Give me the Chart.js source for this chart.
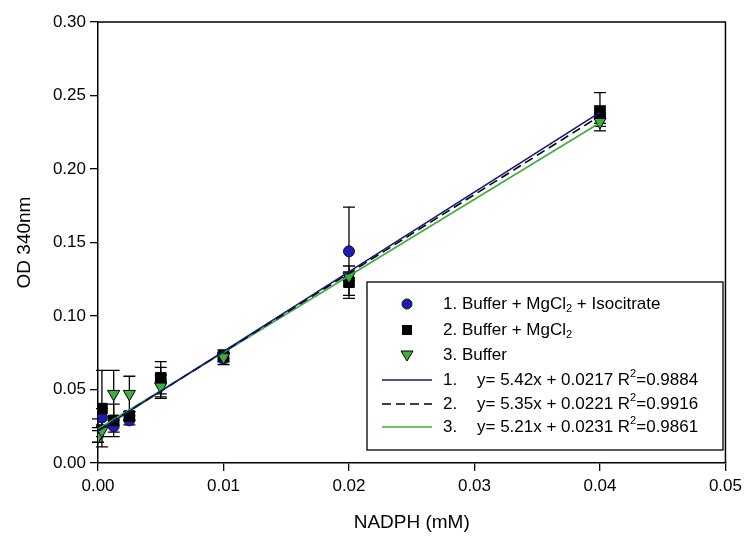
<!DOCTYPE html>
<html>
<head>
<meta charset="utf-8">
<script src="https://cdn.jsdelivr.net/npm/chart.js@4.4.1/dist/chart.umd.min.js"></script>
<style>
  html, body { margin: 0; padding: 0; background: #fff; }
</style>
</head>
<body>
<canvas id="myChart" width="747" height="540"></canvas>
<script>
// NADPH concentrations (mM)
const nadph = [0, 0.0003125, 0.00125, 0.0025, 0.005, 0.01, 0.02, 0.04];

// 1. Buffer + MgCl2 + Isocitrate
const od1 = [0.019, 0.031, 0.025, 0.029, 0.055, 0.071, 0.144, 0.237];
const err1 = [0.005, 0.006, 0.004, 0.003, 0.010, 0.004, 0.030, 0.006];
// 2. Buffer + MgCl2
const od2 = [0.022, 0.037, 0.029, 0.032, 0.058, 0.073, 0.123, 0.239];
const err2 = [0.008, 0.026, 0.011, 0.003, 0.011, 0.004, 0.011, 0.013];
// 3. Buffer
const od3 = [0.018, 0.022, 0.047, 0.047, 0.052, 0.072, 0.127, 0.232];
const err3 = [0.004, 0.004, 0.016, 0.012, 0.008, 0.003, 0.003, 0.003];

// regression lines (ends read from the equations)
const fitX = [0, 0.04];
const fit1 = [0.0217, 0.2385];
const fit2 = [0.0221, 0.2361];
const fit3 = [0.0231, 0.2315];

// legend texts ('_' = subscript, '^' = superscript)
const seriesLabels = [
    ['1. Buffer + MgCl', '_2', ' + Isocitrate'],
    ['2. Buffer + MgCl', '_2'],
    ['3. Buffer']
];
const fitNums = ['1.', '2.', '3.'];
const fitLabels = [
    ['y= 5.42x + 0.0217 R', '^2', '=0.9884'],
    ['y= 5.35x + 0.0221 R', '^2', '=0.9916'],
    ['y= 5.21x + 0.0231 R', '^2', '=0.9861']
];

const FONT = 'Arial, "Liberation Sans", sans-serif';
const BLUE = '#1e1ea8';
const NAVY = '#14147a';
const GREEN = '#3cae3c';

function toPoints(xs, ys) {
    return xs.map((x, i) => ({ x: x, y: ys[i] }));
}

// text with sub / superscripts
function richText(ctx, parts, x, y, size) {
    let cx = x;
    parts.forEach(p => {
        let s = size, dy = 0, t = p;
        if (p[0] === '_') { s = size * 0.65; dy = size * 0.32; t = p.slice(1); }
        else if (p[0] === '^') { s = size * 0.65; dy = -size * 0.38; t = p.slice(1); }
        ctx.font = s + 'px ' + FONT;
        ctx.fillText(t, cx, y + dy);
        cx += ctx.measureText(t).width;
    });
}

// Error bars + top/right frame
const errorBars = {
    id: 'errorBars',
    beforeDatasetsDraw(chart) {
        const ctx = chart.ctx;
        const sx = chart.scales.x, sy = chart.scales.y;
        const a = chart.chartArea;
        ctx.save();
        ctx.strokeStyle = '#000';
        ctx.lineWidth = 1.5;
        ctx.beginPath();
        ctx.moveTo(a.left, a.top);
        ctx.lineTo(a.right, a.top);
        ctx.lineTo(a.right, a.bottom);
        ctx.stroke();
        ctx.lineWidth = 1.3;
        chart.data.datasets.forEach(ds => {
            if (!ds.errors) return;
            ds.data.forEach((p, i) => {
                const px = sx.getPixelForValue(p.x);
                const t = sy.getPixelForValue(p.y + ds.errors[i]);
                const b = sy.getPixelForValue(p.y - ds.errors[i]);
                ctx.beginPath();
                ctx.moveTo(px, t); ctx.lineTo(px, b);
                ctx.moveTo(px - 6, t); ctx.lineTo(px + 6, t);
                ctx.moveTo(px - 6, b); ctx.lineTo(px + 6, b);
                ctx.stroke();
            });
        });
        ctx.restore();
    }
};

// Boxed legend inside the plot
const boxLegend = {
    id: 'boxLegend',
    afterDraw(chart) {
        const ctx = chart.ctx;
        const bx = 367, by = 282, bw = 356, bh = 168;
        const rows = [304, 330, 355, 380, 404, 427];
        ctx.save();
        ctx.fillStyle = '#fff';
        ctx.fillRect(bx, by, bw, bh);
        ctx.strokeStyle = '#000';
        ctx.lineWidth = 1.3;
        ctx.strokeRect(bx, by, bw, bh);

        // markers
        const mx = 407;
        ctx.lineWidth = 1;
        ctx.fillStyle = BLUE; ctx.strokeStyle = '#0a0a50';
        ctx.beginPath(); ctx.arc(mx, rows[0], 5, 0, Math.PI * 2); ctx.fill(); ctx.stroke();
        ctx.fillStyle = '#000';
        ctx.fillRect(mx - 5, rows[1] - 5, 10, 10);
        ctx.fillStyle = GREEN; ctx.strokeStyle = '#000';
        ctx.beginPath();
        ctx.moveTo(mx - 6, rows[2] - 4); ctx.lineTo(mx + 6, rows[2] - 4); ctx.lineTo(mx, rows[2] + 6);
        ctx.closePath(); ctx.fill(); ctx.stroke();

        // line samples
        const lineStyles = [[NAVY, []], ['#000', [9, 5]], [GREEN, []]];
        lineStyles.forEach((s, i) => {
            ctx.strokeStyle = s[0];
            ctx.setLineDash(s[1]);
            ctx.lineWidth = 1.6;
            ctx.beginPath();
            ctx.moveTo(382, rows[3 + i]); ctx.lineTo(432, rows[3 + i]);
            ctx.stroke();
        });
        ctx.setLineDash([]);

        ctx.fillStyle = '#000';
        ctx.textBaseline = 'middle';
        seriesLabels.forEach((parts, i) => richText(ctx, parts, 443, rows[i], 17));
        fitLabels.forEach((parts, i) => {
            ctx.font = '17px ' + FONT;
            ctx.fillText(fitNums[i], 443, rows[3 + i]);
            richText(ctx, parts, 477, rows[3 + i], 17);
        });
        ctx.restore();
    }
};

const ctx = document.getElementById('myChart').getContext('2d');
const myChart = new Chart(ctx, {
    type: 'scatter',
    data: {
        datasets: [
            {
                label: 'fit 1', data: toPoints(fitX, fit1), showLine: true,
                borderColor: NAVY, borderWidth: 1.6, pointRadius: 0, order: 1
            },
            {
                label: 'fit 2', data: toPoints(fitX, fit2), showLine: true,
                borderColor: '#000', borderDash: [9, 5], borderWidth: 1.6, pointRadius: 0, order: 1
            },
            {
                label: 'fit 3', data: toPoints(fitX, fit3), showLine: true,
                borderColor: GREEN, borderWidth: 1.6, pointRadius: 0, order: 1
            },
            {
                label: seriesLabels[2].join(''), data: toPoints(nadph, od3), errors: err3,
                pointStyle: 'triangle', rotation: 180, pointRadius: 7,
                backgroundColor: GREEN, borderColor: '#000', borderWidth: 1, order: 2
            },
            {
                label: seriesLabels[1].join(''), data: toPoints(nadph, od2), errors: err2,
                pointStyle: 'rect', pointRadius: 7.5,
                backgroundColor: '#000', borderColor: '#000', borderWidth: 1, order: 3
            },
            {
                label: seriesLabels[0].join(''), data: toPoints(nadph, od1), errors: err1,
                pointStyle: 'circle', pointRadius: 5.5,
                backgroundColor: BLUE, borderColor: '#0a0a50', borderWidth: 1, order: 4
            }
        ]
    },
    options: {
        responsive: false,
        animation: false,
        layout: { padding: { top: 22, right: 19, left: 0, bottom: 0 } },
        plugins: {
            legend: { display: false },
            tooltip: { enabled: false }
        },
        scales: {
            x: {
                type: 'linear', min: 0, max: 0.05,
                afterFit: s => { s.height = 77; },
                ticks: {
                    stepSize: 0.01, color: '#000', padding: 5,
                    font: { size: 17, family: FONT },
                    callback: v => Number(v).toFixed(2)
                },
                grid: { drawOnChartArea: false, drawTicks: true, tickLength: 8, color: '#000', lineWidth: 1.3 },
                border: { color: '#000', width: 1.5 },
                title: {
                    display: true, text: 'NADPH (mM)', color: '#000',
                    font: { size: 19, family: FONT }, padding: { top: 4, bottom: 6 }
                }
            },
            y: {
                min: 0, max: 0.3,
                afterFit: s => { s.width = 98; },
                ticks: {
                    stepSize: 0.05, color: '#000', padding: 4,
                    font: { size: 17, family: FONT },
                    callback: v => Number(v).toFixed(2)
                },
                grid: { drawOnChartArea: false, drawTicks: true, tickLength: 8, color: '#000', lineWidth: 1.3 },
                border: { color: '#000', width: 1.5 },
                title: {
                    display: true, text: 'OD 340nm', color: '#000',
                    font: { size: 19, family: FONT }, padding: { top: 13, bottom: 0 }
                }
            }
        }
    },
    plugins: [errorBars, boxLegend]
});
</script>
</body>
</html>
